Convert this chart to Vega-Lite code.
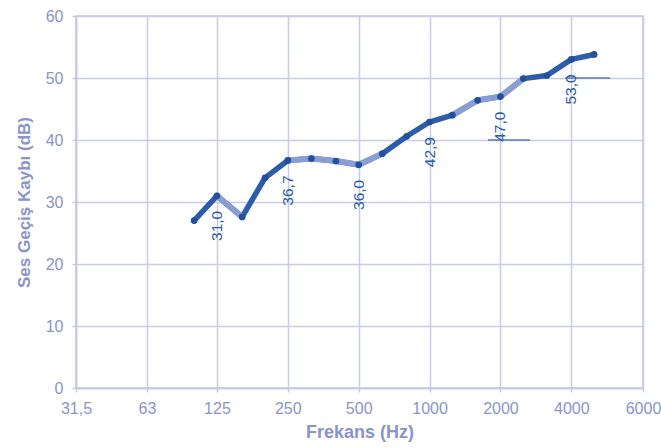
{
  "$schema": "https://vega.github.io/schema/vega-lite/v6.json",
  "autosize": {"type": "none"},
  "width": 567,
  "height": 372,
  "padding": {"left": 76, "top": 16, "right": 18, "bottom": 60},
  "background": "white",
  "config": {
    "view": {"stroke": "#c3c8e6", "strokeWidth": 1.5},
    "font": "Liberation Sans"
  },
  "datasets": {
    "olcum": [
      {"frekans": 100, "db": 27.0, "etiket": ""},
      {"frekans": 125, "db": 31.0, "etiket": "31,0"},
      {"frekans": 160, "db": 27.6, "etiket": ""},
      {"frekans": 200, "db": 33.9, "etiket": ""},
      {"frekans": 250, "db": 36.7, "etiket": "36,7"},
      {"frekans": 315, "db": 37.0, "etiket": ""},
      {"frekans": 400, "db": 36.6, "etiket": ""},
      {"frekans": 500, "db": 36.0, "etiket": "36,0"},
      {"frekans": 630, "db": 37.8, "etiket": ""},
      {"frekans": 800, "db": 40.6, "etiket": ""},
      {"frekans": 1000, "db": 42.9, "etiket": "42,9"},
      {"frekans": 1250, "db": 44.0, "etiket": ""},
      {"frekans": 1600, "db": 46.4, "etiket": ""},
      {"frekans": 2000, "db": 47.0, "etiket": "47,0"},
      {"frekans": 2500, "db": 49.9, "etiket": ""},
      {"frekans": 3150, "db": 50.4, "etiket": ""},
      {"frekans": 4000, "db": 53.0, "etiket": "53,0"},
      {"frekans": 5000, "db": 53.8, "etiket": ""}
    ],
    "acik": [
      {"f1": 125, "d1": 31.0, "f2": 160, "d2": 27.6},
      {"f1": 250, "d1": 36.7, "f2": 315, "d2": 37.0},
      {"f1": 315, "d1": 37.0, "f2": 400, "d2": 36.6},
      {"f1": 400, "d1": 36.6, "f2": 500, "d2": 36.0},
      {"f1": 500, "d1": 36.0, "f2": 630, "d2": 37.8},
      {"f1": 1250, "d1": 44.0, "f2": 1600, "d2": 46.4},
      {"f1": 1600, "d1": 46.4, "f2": 2000, "d2": 47.0},
      {"f1": 2000, "d1": 47.0, "f2": 2500, "d2": 49.9}
    ],
    "isaret": [
      {"f1": 1771, "f2": 2671, "d": 40},
      {"f1": 3761, "f2": 5840, "d": 50}
    ]
  },
  "layer": [
    {
      "data": {"name": "isaret"},
      "mark": {"type": "rule", "color": "#5a78c0", "strokeWidth": 1.5},
      "encoding": {
        "x": {"field": "f1", "type": "quantitative", "scale": {"type": "log", "base": 2, "domain": [31.5, 8064], "nice": false},
          "axis": {
            "values": [31.5, 63, 125, 250, 500, 1000, 2000, 4000, 8064],
            "labelExpr": "datum.value == 31.5 ? '31,5' : (datum.value > 6000 ? '6000' : format(datum.value, 'd'))",
            "title": "Frekans (Hz)",
            "titleFont": "Liberation Sans",
            "titleFontSize": 18,
            "titleFontWeight": "bold",
            "titleColor": "#8a94cb",
            "titlePadding": 7,
            "labelFont": "Liberation Sans",
            "labelFontSize": 16,
            "labelColor": "#8a94cb",
            "labelPadding": 8,
            "labelFlush": false,
            "labelOverlap": false,
            "tickColor": "#c3c8e6",
            "tickSize": 4,
            "tickWidth": 1.5,
            "domainColor": "#c3c8e6",
            "domainWidth": 1.5,
            "grid": true,
            "gridColor": "#c8cce8",
            "gridWidth": 1.5
          }
        },
        "x2": {"field": "f2"},
        "y": {"field": "d", "type": "quantitative", "scale": {"domain": [0, 60], "nice": false},
          "axis": {
            "values": [0, 10, 20, 30, 40, 50, 60],
            "title": "Ses Geçiş Kaybı (dB)",
            "titleFont": "Liberation Sans",
            "titleFontSize": 17,
            "titleFontWeight": "bold",
            "titleColor": "#8a94cb",
            "titlePadding": 12,
            "labelFont": "Liberation Sans",
            "labelFontSize": 16,
            "labelColor": "#8a94cb",
            "labelPadding": 9,
            "tickColor": "#c3c8e6",
            "tickSize": 4,
            "tickWidth": 1.5,
            "domainColor": "#c3c8e6",
            "domainWidth": 1.5,
            "grid": true,
            "gridColor": "#c8cce8",
            "gridWidth": 1.5
          }
        }
      }
    },
    {
      "data": {"name": "olcum"},
      "mark": {"type": "line", "color": "#2d5ca8", "strokeWidth": 5.5, "strokeCap": "round", "strokeJoin": "round"},
      "encoding": {
        "x": {"field": "frekans", "type": "quantitative"},
        "y": {"field": "db", "type": "quantitative"}
      }
    },
    {
      "data": {"name": "acik"},
      "mark": {"type": "rule", "color": "#8a9ed3", "strokeWidth": 6, "strokeCap": "round"},
      "encoding": {
        "x": {"field": "f1", "type": "quantitative"},
        "x2": {"field": "f2"},
        "y": {"field": "d1", "type": "quantitative"},
        "y2": {"field": "d2"}
      }
    },
    {
      "data": {"name": "olcum"},
      "mark": {"type": "circle", "color": "#234f9c", "size": 45, "opacity": 1},
      "encoding": {
        "x": {"field": "frekans", "type": "quantitative"},
        "y": {"field": "db", "type": "quantitative"}
      }
    },
    {
      "data": {"name": "olcum"},
      "transform": [{"filter": "datum.etiket != ''"}],
      "mark": {"type": "text", "angle": 270, "align": "right", "baseline": "middle", "dx": -15, "color": "#2a5aa8", "fontSize": 15.5, "font": "Liberation Sans"},
      "encoding": {
        "x": {"field": "frekans", "type": "quantitative"},
        "y": {"field": "db", "type": "quantitative"},
        "text": {"field": "etiket"}
      }
    }
  ]
}
